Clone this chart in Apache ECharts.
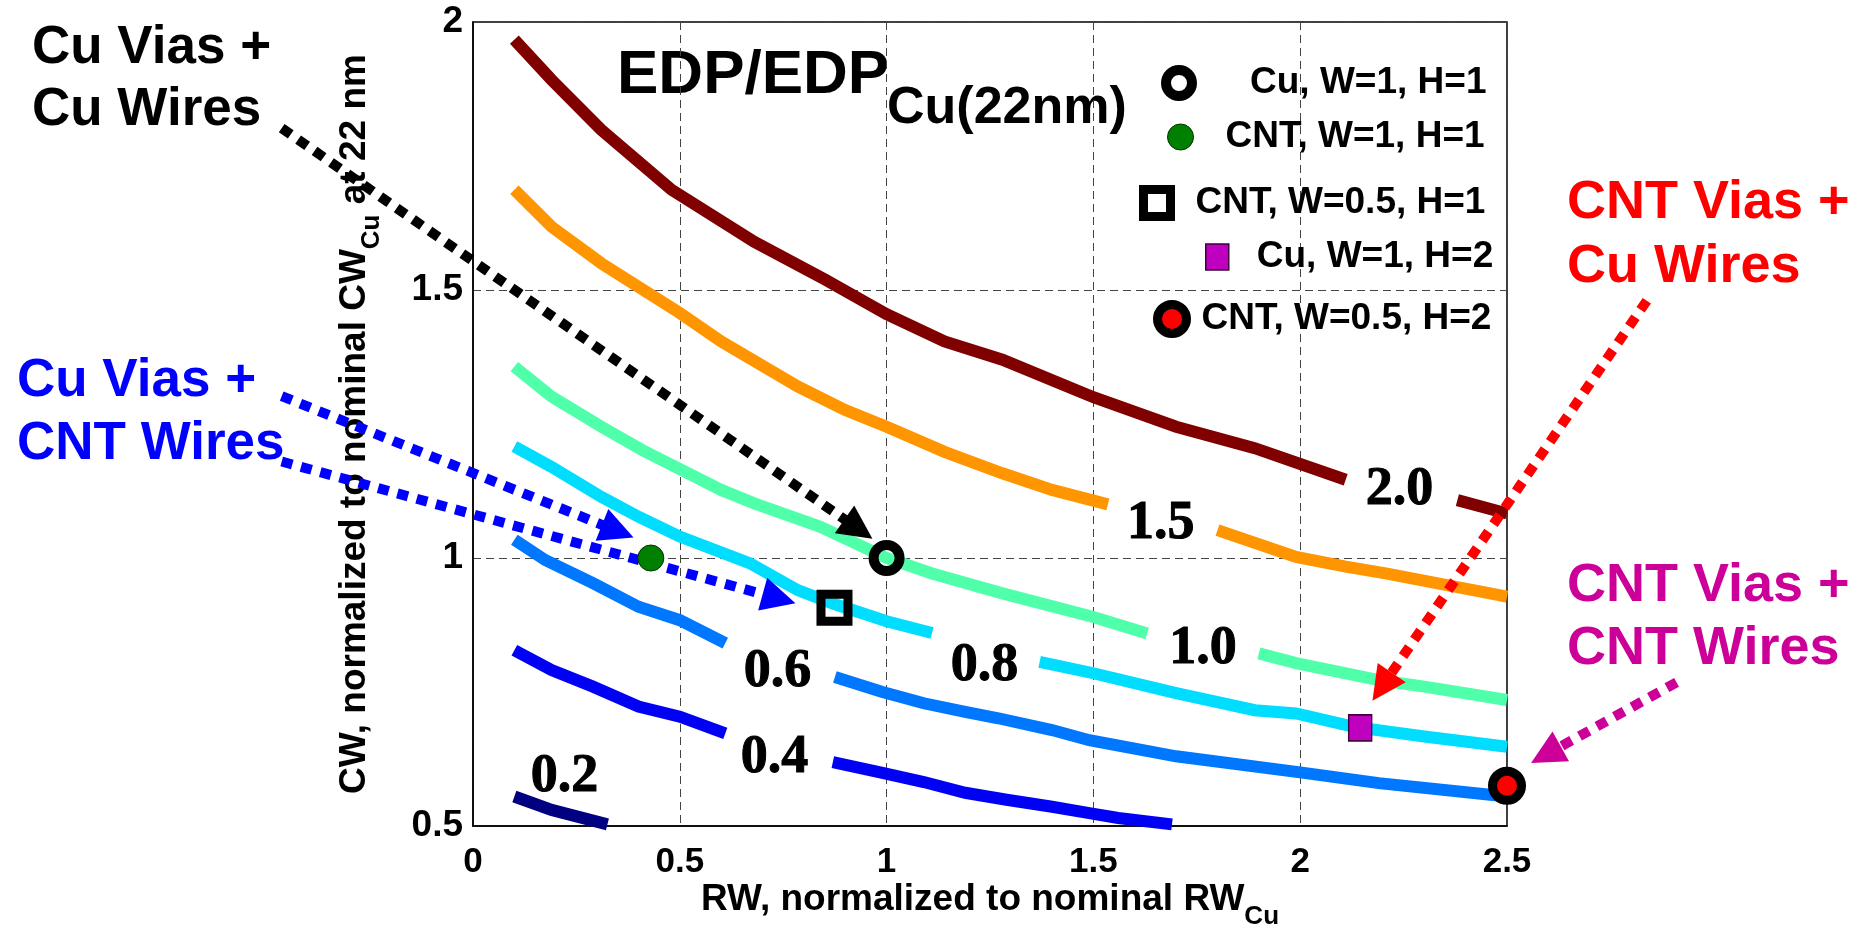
<!DOCTYPE html>
<html>
<head>
<meta charset="utf-8">
<title>EDP/EDP Cu(22nm) contours</title>
<script src="https://cdn.jsdelivr.net/npm/echarts@6.0.0/dist/echarts.min.js"></script>
<style>
    html, body { margin: 0; padding: 0; background: #fff; }
    #main { width: 1864px; height: 934px; }
</style>
</head>
<body>
<div id="main"></div>
<script>
// contour lines, [RW, CW]; null = gap left for the level label
var c20 = [[0.10, 1.967], [0.19, 1.892], [0.31, 1.799], [0.48, 1.687], [0.68, 1.59], [0.85, 1.52], [1.0, 1.455],
    [1.14, 1.404], [1.28, 1.37], [1.5, 1.30], [1.7, 1.245], [1.89, 1.205], [2.11, 1.146], null, [2.38, 1.108], [2.5, 1.083]];
var c15 = [[0.10, 1.687], [0.19, 1.618], [0.31, 1.55], [0.50, 1.457], [0.60, 1.404], [0.785, 1.32], [0.90, 1.276],
    [1.0, 1.245], [1.14, 1.198], [1.28, 1.158], [1.40, 1.127], [1.535, 1.10], null, [1.80, 1.052], [1.99, 1.002],
    [2.11, 0.984], [2.21, 0.971], [2.5, 0.928]];
var c10 = [[0.10, 1.357], [0.19, 1.301], [0.31, 1.245], [0.41, 1.201], [0.60, 1.127], [0.68, 1.102], [0.84, 1.058],
    [1.0, 1.0], [1.11, 0.971], [1.28, 0.934], [1.50, 0.89], [1.63, 0.859], null, [1.90, 0.822], [1.99, 0.804],
    [2.19, 0.772], [2.30, 0.76], [2.5, 0.735]];
var c08 = [[0.10, 1.208], [0.19, 1.17], [0.31, 1.114], [0.40, 1.077], [0.50, 1.04], [0.67, 0.99], [0.785, 0.94],
    [0.87, 0.915], [1.0, 0.882], [1.11, 0.86], null, [1.37, 0.806], [1.50, 0.785], [1.70, 0.748], [1.89, 0.716],
    [1.99, 0.71], [2.13, 0.685], [2.30, 0.667], [2.5, 0.648]];
var c06 = [[0.10, 1.034], [0.175, 0.996], [0.29, 0.953], [0.40, 0.909], [0.50, 0.884], [0.61, 0.841], null,
    [0.875, 0.778], [0.99, 0.75], [1.09, 0.729], [1.19, 0.713], [1.27, 0.701], [1.40, 0.679], [1.49, 0.66],
    [1.70, 0.63], [2.0, 0.60], [2.19, 0.58], [2.5, 0.555]];
var c04 = [[0.10, 0.828], [0.19, 0.791], [0.29, 0.76], [0.40, 0.723], [0.50, 0.704], [0.61, 0.673], null,
    [0.87, 0.619], [0.99, 0.599], [1.09, 0.582], [1.19, 0.562], [1.29, 0.549], [1.40, 0.536], [1.49, 0.524],
    [1.56, 0.515], [1.69, 0.503]];
var c02 = [[0.10, 0.555], [0.19, 0.53], [0.325, 0.503]];

var contourLevels = ['2.0', '1.5', '1.0', '0.8', '0.6', '0.4', '0.2'];
var contourLines = [c20, c15, c10, c08, c06, c04, c02];
var contourColors = ['#800000', '#ff9500', '#50ffaa', '#00ddff', '#0077ff', '#0000f5', '#000080'];

// inline level labels
var labelRW = [2.24, 1.663, 1.765, 1.237, 0.736, 0.729, 0.221];
var labelCW = [1.126, 1.063, 0.830, 0.799, 0.788, 0.627, 0.592];

// design points
var pointNames = ['Cu, W=1, H=1', 'CNT, W=1, H=1', 'CNT, W=0.5, H=1', 'Cu, W=1, H=2', 'CNT, W=0.5, H=2'];
var pointRW = [1.0, 0.43, 0.874, 2.145, 2.5];
var pointCW = [1.0, 1.0, 0.907, 0.683, 0.575];

// annotation arrows (from text to point)
var arrowFrom = [[-0.4625, 1.802], [-0.4625, 1.302], [-0.4625, 1.180], [2.838, 1.480], [2.910, 0.768]];
var arrowTo = [[0.932, 1.054], [0.350, 1.050], [0.740, 0.924], [2.198, 0.760], [2.594, 0.633]];
var arrowColors = ['#000000', '#0000ff', '#0000ff', '#ff0000', '#cc0099'];

var xTicks = [0, 0.5, 1, 1.5, 2, 2.5];
var yTicks = [0.5, 1, 1.5, 2];

var SANS = '"Liberation Sans", Arial, sans-serif';
var SERIF = '"Liberation Serif", "Times New Roman", serif';

var chartDom = document.getElementById('main');
var myChart = echarts.init(chartDom, null, { renderer: 'canvas' });

// marker look for each design point (plot + legend)
var pointStyle = [
    { symbol: 'circle', size: 26, w: 26, h: 26, fill: 'transparent', border: '#000', bw: 10, left: 1161, top: 58, pad: 53 },
    { symbol: 'circle', size: 26, w: 26, h: 26, fill: '#008000', border: '#003300', bw: 1, left: 1167, top: 112, pad: 27 },
    { symbol: 'rect', size: 27, w: 27, h: 27, fill: 'transparent', border: '#000', bw: 9, left: 1139, top: 178, pad: 20 },
    { symbol: 'rect', size: [23, 26], w: 23, h: 26, fill: '#bf00bf', border: '#400040', bw: 1.5, left: 1205, top: 232, pad: 23 },
    { symbol: 'circle', size: 29, w: 29, h: 29, fill: '#ff0000', border: '#000', bw: 9, left: 1153, top: 294, pad: 10 }
];

function buildSeries() {
    var series = contourLines.map(function (pts, i) {
        return {
            name: 'EDP ' + contourLevels[i],
            type: 'line',
            data: pts.map(function (p) { return p || [null, null]; }),
            symbol: 'none',
            connectNulls: false,
            silent: true,
            z: 2,
            lineStyle: { color: contourColors[i], width: 12, cap: 'butt', join: 'miter' },
            itemStyle: { color: contourColors[i] }
        };
    });

    series.push({
        name: 'levels',
        type: 'scatter',
        silent: true,
        z: 3,
        symbolSize: 1,
        itemStyle: { color: 'transparent' },
        data: labelRW.map(function (x, i) {
            return { value: [x, labelCW[i]], name: contourLevels[i] };
        }),
        label: {
            show: true,
            position: 'inside',
            formatter: '{b}',
            fontFamily: SERIF,
            fontWeight: 'bold',
            fontSize: 54,
            color: '#000',
            opacity: 1,
            textBorderColor: '#000',
            textBorderWidth: 1
        }
    });

    series.push({
        name: 'arrows',
        type: 'lines',
        coordinateSystem: 'cartesian2d',
        clip: false,
        silent: true,
        z: 5,
        symbol: ['none', 'triangle'],
        symbolSize: 34,
        lineStyle: { width: 10, type: [11, 9], opacity: 1, curveness: 0, cap: 'butt' },
        data: arrowFrom.map(function (from, i) {
            return { coords: [from, arrowTo[i]], lineStyle: { color: arrowColors[i] } };
        })
    });

    pointNames.forEach(function (name, i) {
        var s = pointStyle[i];
        series.push({
            name: name,
            type: 'scatter',
            clip: false,
            z: 6,
            symbol: s.symbol,
            symbolSize: s.size,
            itemStyle: { color: s.fill, borderColor: s.border, borderWidth: s.bw, opacity: 1 },
            data: [[pointRW[i], pointCW[i]]]
        });
    });
    return series;
}

function buildLegends() {
    return pointNames.map(function (name, i) {
        var s = pointStyle[i];
        return {
            data: [name],
            left: s.left,
            top: s.top,
            padding: 0,
            selectedMode: false,
            itemWidth: s.w,
            itemHeight: s.h,
            itemStyle: { borderWidth: s.bw },
            textStyle: {
                fontFamily: SANS,
                fontWeight: 'bold',
                fontSize: 37,
                lineHeight: 50,
                color: '#000',
                padding: [0, 0, 0, s.pad]
            }
        };
    });
}

var option = {
    animation: false,
    backgroundColor: '#fff',
    grid: {
        left: 473, top: 22, width: 1034, height: 804,
        outerBoundsMode: 'none',
        containLabel: false,
        show: true, borderColor: '#000', borderWidth: 1.5, backgroundColor: 'transparent'
    },
    legend: buildLegends(),
    xAxis: {
        type: 'value',
        min: xTicks[0], max: xTicks[xTicks.length - 1], interval: 0.5,
        axisLine: { show: true, lineStyle: { color: '#000', width: 1.5 } },
        axisTick: { show: false },
        splitLine: { show: true, lineStyle: { color: '#444', width: 1, type: [8, 5] } },
        axisLabel: { fontFamily: SANS, fontWeight: 'bold', fontSize: 35, color: '#000', margin: 19 },
        name: 'RW, normalized to nominal RW{sub|Cu}',
        nameLocation: 'middle',
        nameMoveOverlap: false,
        nameGap: 44,
        nameTextStyle: {
            fontFamily: SANS, fontWeight: 'bold', fontSize: 37, color: '#000', lineHeight: 60,
            rich: { sub: { fontFamily: SANS, fontWeight: 'bold', fontSize: 26, lineHeight: 26, verticalAlign: 'bottom', color: '#000' } }
        }
    },
    yAxis: {
        type: 'value',
        min: yTicks[0], max: yTicks[yTicks.length - 1], interval: 0.5,
        axisLine: { show: true, lineStyle: { color: '#000', width: 1.5 } },
        axisTick: { show: false },
        splitLine: { show: true, lineStyle: { color: '#444', width: 1, type: [8, 5] } },
        axisLabel: { fontFamily: SANS, fontWeight: 'bold', fontSize: 37, color: '#000', margin: 10 },
        name: 'CW, normalized to nominal CW{sub|Cu} at 22 nm',
        nameLocation: 'middle',
        nameMoveOverlap: false,
        nameGap: 88,
        nameTextStyle: {
            fontFamily: SANS, fontWeight: 'bold', fontSize: 37, color: '#000', lineHeight: 60,
            rich: { sub: { fontFamily: SANS, fontWeight: 'bold', fontSize: 26, lineHeight: 26, verticalAlign: 'bottom', color: '#000' } }
        }
    },
    graphic: [
        { type: 'text', x: 617, y: 76, silent: true,
          style: { text: 'EDP/EDP', font: 'bold 62px ' + SANS, fill: '#000', verticalAlign: 'middle' } },
        { type: 'text', x: 887, y: 109, silent: true,
          style: { text: 'Cu(22nm)', font: 'bold 52px ' + SANS, fill: '#000', verticalAlign: 'middle' } },
        { type: 'text', x: 32, y: 17, silent: true,
          style: { text: 'Cu Vias +\nCu Wires', font: 'bold 53px ' + SANS, fill: '#000', lineHeight: 62, verticalAlign: 'top' } },
        { type: 'text', x: 17, y: 350, silent: true,
          style: { text: 'Cu Vias +\nCNT Wires', font: 'bold 53px ' + SANS, fill: '#0000ff', lineHeight: 63, verticalAlign: 'top' } },
        { type: 'text', x: 1567, y: 171, silent: true,
          style: { text: 'CNT Vias +\nCu Wires', font: 'bold 54px ' + SANS, fill: '#ff0000', lineHeight: 64, verticalAlign: 'top' } },
        { type: 'text', x: 1567, y: 555, silent: true,
          style: { text: 'CNT Vias +\nCNT Wires', font: 'bold 54px ' + SANS, fill: '#cc0099', lineHeight: 63, verticalAlign: 'top' } }
    ],
    series: buildSeries()
};

myChart.setOption(option);
</script>
</body>
</html>
